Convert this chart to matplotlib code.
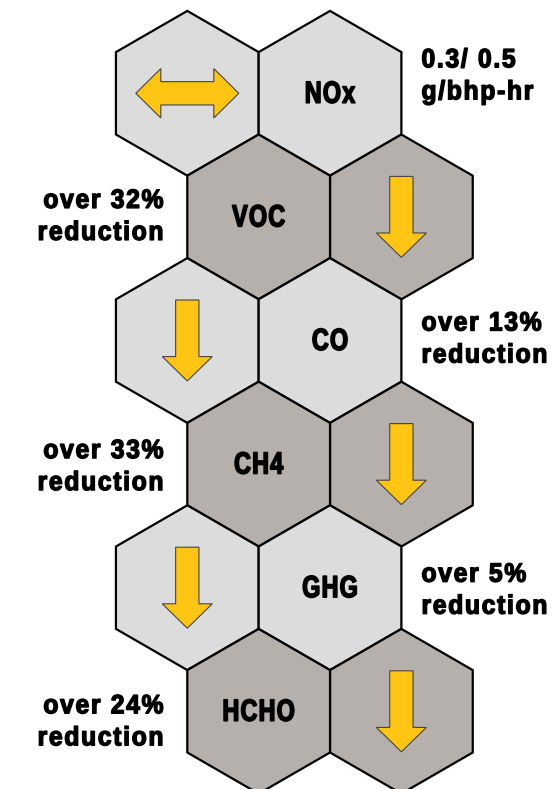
# hexagon chart: emission changes per pollutant
import numpy as np
import matplotlib
matplotlib.use('Agg')
import matplotlib.pyplot as plt
from matplotlib import font_manager
from matplotlib.font_manager import FontProperties
from matplotlib.patches import RegularPolygon, Polygon, PathPatch
from matplotlib.path import Path
from matplotlib.textpath import TextPath
from matplotlib.transforms import Affine2D

# --- data ---
pollutants = ['NOx', 'VOC', 'CO', 'CH4', 'GHG', 'HCHO']
changes = ['0.3/ 0.5\ng/bhp-hr', 'over 32%\nreduction', 'over 13%\nreduction',
           'over 33%\nreduction', 'over 5%\nreduction', 'over 24%\nreduction']
trend = ['flat', 'down', 'down', 'down', 'down', 'down']

# --- style / layout ---
W, H = 559, 789
SIDE = 82.4                     # hex side length in px
HEX_W = SIDE * np.sqrt(3)
X0, Y0 = 187.3, 93.3            # centre of the top-left hex
LIGHT = '#dcdcdc'
DARK = '#b5b0ab'
YELLOW = '#ffc515'
label_dy = [-26, -9, -10, -6, -6, 2]   # first baseline relative to row centre
LINE_GAP = 32

PROP = FontProperties(family='Liberation Sans', weight='bold')
FONT = font_manager.get_font(font_manager.findfont(PROP))

fig = plt.figure(figsize=(W / 100, H / 100), dpi=100)
ax = fig.add_axes([0, 0, 1, 1])
ax.set_xlim(0, W)
ax.set_ylim(H, 0)
ax.axis('off')


def cond_text(x, y, s, size, sx, track, ha='left', lw=1.0):
    """condensed + tracked bold text as a path, y = baseline (px, y down)"""
    FONT.set_size(size, 72)
    advs = [FONT.load_char(ord(c)).linearHoriAdvance / 65536 * sx for c in s]
    total = sum(advs) + track * (len(s) - 1)
    x0 = {'left': x, 'right': x - total, 'center': x - total / 2}[ha]
    parts = []
    pen = x0
    for c, a in zip(s, advs):
        if c != ' ':
            tp = TextPath((0, 0), c, size=size, prop=PROP)
            parts.append(tp.transformed(Affine2D().scale(sx, -1).translate(pen, y)))
        pen += a + track
    ax.add_patch(PathPatch(Path.make_compound_path(*parts), facecolor='black',
                           edgecolor='black', lw=lw, joinstyle='round', zorder=3))


def hexagon(cx, cy, color):
    ax.add_patch(RegularPolygon((cx, cy), 6, radius=SIDE, orientation=0,
                                facecolor=color, edgecolor='black', lw=1.6, zorder=1))


def down_arrow(cx, cy):
    L, sw, hw, hl = 81, 23.3, 50, 24.4
    top, tip = cy - L / 2, cy + L / 2
    pts = [(cx - sw / 2, top), (cx + sw / 2, top), (cx + sw / 2, tip - hl),
           (cx + hw / 2, tip - hl), (cx, tip), (cx - hw / 2, tip - hl),
           (cx - sw / 2, tip - hl)]
    ax.add_patch(Polygon(pts, closed=True, facecolor=YELLOW, edgecolor='#444444',
                         lw=0.8, zorder=2))


def double_arrow(cx, cy):
    L, sh, hh, hl = 103, 23.3, 49.4, 25
    l, r = cx - L / 2, cx + L / 2
    pts = [(l, cy), (l + hl, cy - hh / 2), (l + hl, cy - sh / 2), (r - hl, cy - sh / 2),
           (r - hl, cy - hh / 2), (r, cy), (r - hl, cy + hh / 2), (r - hl, cy + sh / 2),
           (l + hl, cy + sh / 2), (l + hl, cy + hh / 2)]
    ax.add_patch(Polygon(pts, closed=True, facecolor=YELLOW, edgecolor='#444444',
                         lw=0.8, zorder=2))


for r, (name, txt, tr) in enumerate(zip(pollutants, changes, trend)):
    cy = Y0 + r * 1.5 * SIDE
    color = LIGHT if r % 2 == 0 else DARK
    if r % 2 == 0:
        arrow_x, label_x = X0, X0 + HEX_W
        tx, ha = 421.5, 'left'
    else:
        label_x, arrow_x = X0 + HEX_W / 2, X0 + HEX_W * 1.5
        tx, ha = 163.5, 'right'
    hexagon(arrow_x, cy, color)
    hexagon(label_x, cy, color)
    if tr == 'flat':
        double_arrow(arrow_x, cy)
    else:
        down_arrow(arrow_x, cy)
    cond_text(label_x, cy + 9.5, name, 30.7, 0.76, 1.2, 'center', lw=1.1)
    for k, line in enumerate(txt.split('\n')):
        cond_text(tx, cy + label_dy[r] + k * LINE_GAP, line, 26.5, 0.93, 1.7, ha, lw=1.0)

fig.savefig('out.png', dpi=100)
